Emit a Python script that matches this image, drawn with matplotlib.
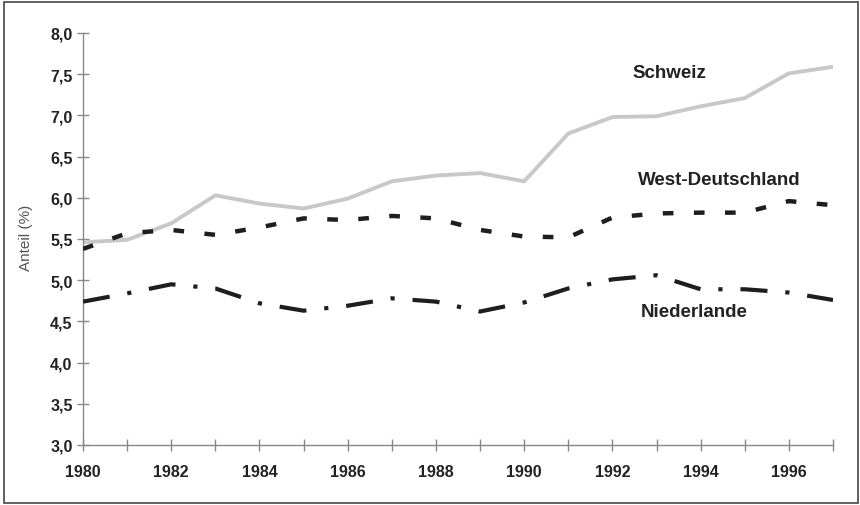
import matplotlib
matplotlib.use("Agg")
import matplotlib.pyplot as plt
from matplotlib.patches import Rectangle

years = list(range(1980, 1998))
schweiz = [5.46, 5.49, 5.69, 6.03, 5.93, 5.87, 5.99, 6.20, 6.27, 6.30, 6.20,
           6.78, 6.98, 6.99, 7.11, 7.21, 7.51, 7.59]
west_deutschland = [5.38, 5.57, 5.61, 5.55, 5.64, 5.75, 5.73, 5.78, 5.75, 5.61, 5.53,
                    5.52, 5.76, 5.81, 5.82, 5.82, 5.96, 5.91]
niederlande = [4.74, 4.84, 4.95, 4.90, 4.72, 4.63, 4.69, 4.78, 4.74, 4.62, 4.73,
               4.90, 5.01, 5.06, 4.89, 4.89, 4.85, 4.76]
yticks = [3.0, 3.5, 4.0, 4.5, 5.0, 5.5, 6.0, 6.5, 7.0, 7.5, 8.0]
ytick_labels = ["3,0", "3,5", "4,0", "4,5", "5,0", "5,5", "6,0", "6,5", "7,0", "7,5", "8,0"]
xtick_labels = [str(y) if y % 2 == 0 else "" for y in years]

plt.rcParams['font.family'] = ['Liberation Sans', 'DejaVu Sans']

fig = plt.figure(figsize=(8.6, 5.06), dpi=100)
ax = fig.add_axes([83 / 860, 1 - 446 / 506, 750 / 860, 412 / 506])

ax.plot(years, schweiz, color='#c8c8c8', lw=2.8, solid_joinstyle='round', zorder=2)
ax.plot(years, west_deutschland, color='#1e1e1e', lw=3.2, dashes=(2.4, 4.6),
        dash_capstyle='butt', zorder=3)
ax.plot(years, niederlande, color='#1e1e1e', lw=3.0, dashes=(6.5, 4.3, 1.0, 4.3),
        dash_capstyle='butt', zorder=3)

ax.set_xlim(1980, 1997)
ax.set_ylim(3.0, 8.0)
ax.set_yticks(yticks)
ax.set_yticklabels(ytick_labels)
ax.set_xticks(years)
ax.set_xticklabels(xtick_labels)

for s in ['top', 'right']:
    ax.spines[s].set_visible(False)
for s in ['left', 'bottom']:
    ax.spines[s].set_color('#888888')
    ax.spines[s].set_linewidth(1.0)

ax.tick_params(axis='both', direction='inout', length=9, width=1.0, color='#888888',
               labelsize=11.5, labelcolor='#222222')
ax.tick_params(axis='x', pad=9)
ax.tick_params(axis='y', pad=3)
for lab in ax.get_xticklabels() + ax.get_yticklabels():
    lab.set_fontweight('bold')

ax.set_ylabel("Anteil (%)", family=['Liberation Sans Narrow', 'Liberation Sans'],
              fontsize=11, color='#555555')
ax.yaxis.set_label_coords(-50 / 750, (446 - 238) / 412)

ax.text(632 / 860, 1 - 73 / 506, "Schweiz", transform=fig.transFigure, fontsize=13.5,
        fontweight='bold', color='#222222', ha='left', va='center')
ax.text(638 / 860, 1 - 181 / 506, "West-Deutschland", transform=fig.transFigure,
        fontsize=13.5, fontweight='bold', color='#222222', ha='left', va='center')
ax.text(641 / 860, 1 - 313 / 506, "Niederlande", transform=fig.transFigure, fontsize=13.5,
        fontweight='bold', color='#222222', ha='left', va='center')

fig.patches.append(Rectangle((4 / 860, 2 / 506), 854 / 860, 501 / 506,
                             transform=fig.transFigure, fill=False,
                             edgecolor='#555555', lw=1.3))

fig.savefig("out.png", dpi=100)
